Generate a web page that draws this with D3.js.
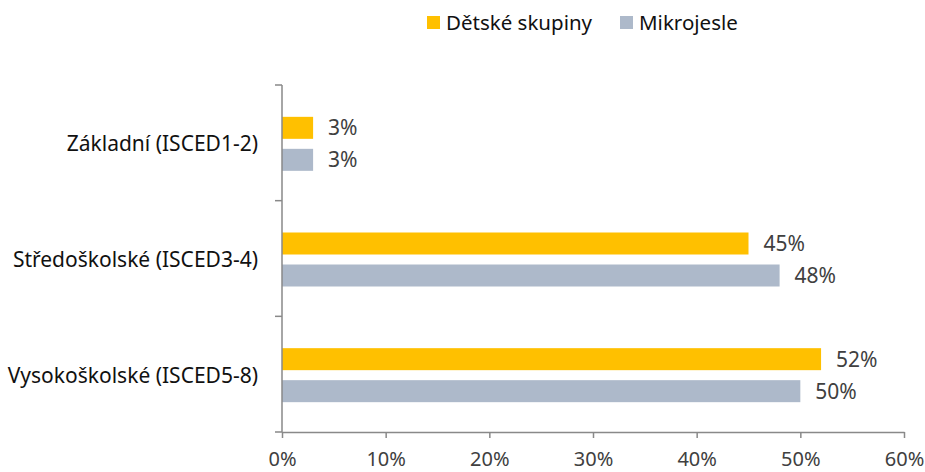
<!DOCTYPE html>
<html>
<head>
<meta charset="utf-8">
<script src="https://cdn.jsdelivr.net/npm/d3@7"></script>
<style>
  body { margin: 0; background: #fff; }
  text { font-family: "Noto Sans", "Open Sans", sans-serif; }
</style>
</head>
<body>
<div id="chart"></div>
<script>
const categories = ["Základní (ISCED1-2)", "Středoškolské (ISCED3-4)", "Vysokoškolské (ISCED5-8)"];
const seriesNames = ["Dětské skupiny", "Mikrojesle"];
const detskeSkupiny = [3, 45, 52];
const mikrojesle = [3, 48, 50];
const xTicks = [0, 10, 20, 30, 40, 50, 60];
const colors = ["#FFC000", "#ADB9CA"];

const width = 925;
const height = 472;
const margin = { top: 85, right: 21, bottom: 40, left: 282 };

const rows = categories.map((c, i) => ({
  category: c,
  values: [detskeSkupiny[i], mikrojesle[i]],
}));

const svg = d3.select("#chart")
  .append("svg")
  .attr("width", width)
  .attr("height", height);

const x = d3.scaleLinear()
  .domain([0, 60])
  .range([margin.left, width - margin.right]);

const y = d3.scaleBand()
  .domain(categories)
  .range([margin.top, height - margin.bottom])
  .padding(0);

const bw = y.bandwidth();
const y1 = d3.scaleBand()
  .domain(seriesNames)
  .range([bw / 2 - 26, bw / 2 + 28])
  .paddingInner(10 / 32)
  .paddingOuter(0);

// bars
const group = svg.append("g")
  .selectAll("g")
  .data(rows)
  .enter()
  .append("g")
  .attr("transform", (d) => `translate(0,${y(d.category)})`);

group.selectAll("rect")
  .data((d) => d.values.map((v, i) => ({ name: seriesNames[i], value: v, i })))
  .enter()
  .append("rect")
  .attr("x", x(0))
  .attr("y", (d) => y1(d.name))
  .attr("width", (d) => x(d.value) - x(0))
  .attr("height", y1.bandwidth())
  .attr("fill", (d) => colors[d.i]);

group.selectAll("text.val")
  .data((d) => d.values.map((v, i) => ({ name: seriesNames[i], value: v, i })))
  .enter()
  .append("text")
  .attr("class", "val")
  .attr("x", (d) => x(d.value) + 15)
  .attr("y", (d) => y1(d.name) + y1.bandwidth() / 2)
  .attr("dy", "0.35em")
  .style("font-size", "21px")
  .attr("fill", "#404040")
  .text((d) => d.value + "%");

// x axis
const xAxis = svg.append("g")
  .attr("transform", `translate(0,${height - margin.bottom})`)
  .call(d3.axisBottom(x).tickValues(xTicks).tickFormat((d) => d + "%").tickSize(6).tickSizeOuter(0));
xAxis.select(".domain").attr("stroke", "#898989").attr("stroke-width", 1.5);
xAxis.selectAll(".tick line").attr("stroke", "#898989").attr("stroke-width", 1.5);
xAxis.selectAll(".tick text")
  .attr("y", 34)
  .attr("dy", "0")
  .style("font-size", "20px")
  .style("font-family", "'Noto Sans', sans-serif")
  .attr("fill", "#404040");

// y axis line with category separator ticks
const yAxis = svg.append("g");
yAxis.append("line")
  .attr("x1", x(0)).attr("x2", x(0))
  .attr("y1", margin.top).attr("y2", height - margin.bottom)
  .attr("stroke", "#898989").attr("stroke-width", 1.5);
const seps = categories.map((c) => y(c)).concat([y(categories[categories.length - 1]) + bw]);
yAxis.selectAll("line.sep")
  .data(seps)
  .enter()
  .append("line")
  .attr("class", "sep")
  .attr("x1", x(0) - 7).attr("x2", x(0))
  .attr("y1", (d) => d).attr("y2", (d) => d)
  .attr("stroke", "#898989").attr("stroke-width", 1.5);

yAxis.selectAll("text")
  .data(categories)
  .enter()
  .append("text")
  .attr("x", x(0) - 24)
  .attr("y", (d) => y(d) + bw / 2 + 1)
  .attr("dy", "0.35em")
  .attr("text-anchor", "end")
  .style("font-size", "21px")
  .attr("fill", "#111")
  .text((d) => d);

// legend
const legend = svg.append("g").attr("transform", "translate(427,16)");
const legendX = [0, 193];
const item = legend.selectAll("g")
  .data(seriesNames)
  .enter()
  .append("g")
  .attr("transform", (d, i) => `translate(${legendX[i]},0)`);
item.append("rect")
  .attr("width", 13)
  .attr("height", 13)
  .attr("fill", (d, i) => colors[i]);
item.append("text")
  .attr("x", 19)
  .attr("y", 7)
  .attr("dy", "0.35em")
  .style("font-size", "20.5px")
  .attr("fill", "#111")
  .text((d) => d);
</script>
</body>
</html>
